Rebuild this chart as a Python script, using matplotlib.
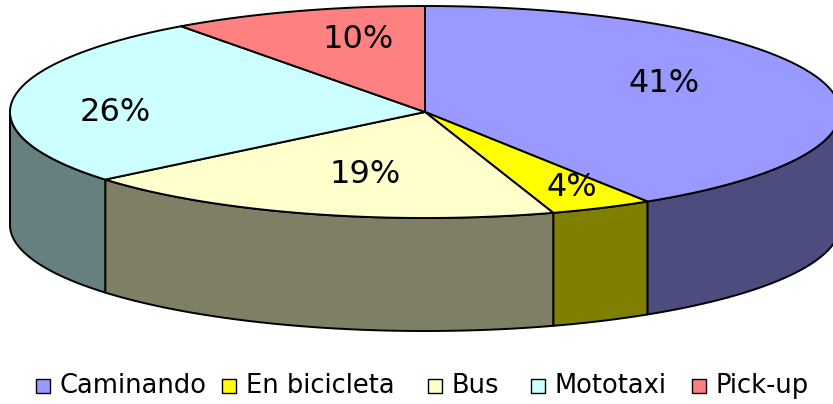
import numpy as np
import matplotlib.pyplot as plt
from matplotlib.patches import Polygon, Rectangle

# Data
labels = ['Caminando', 'En bicicleta', 'Bus', 'Mototaxi', 'Pick-up']
values = [41, 4, 19, 26, 10]
top_colors = ['#9999FF', '#FFFF00', '#FFFFCC', '#CCFFFF', '#FF8080']
side_colors = ['#4C4C7F', '#7F7F00', '#7F7F66', '#667F7F', '#7F4040']
# label placement: radial fraction and vertical nudge (px)
label_frac = [0.60, 0.83, 0.52, 0.753, 0.52]
label_dy = [-11, -4, 10, 11, -20]

# Geometry of the 3D pie (pixels)
cx, cy = 425, 112
a, b = 415, 106
depth = 113

fig = plt.figure(figsize=(8.33, 4.04), dpi=100)
ax = fig.add_axes([0, 0, 1, 1])
ax.set_xlim(0, 833)
ax.set_ylim(404, 0)
ax.axis('off')


def ell(t, dy=0):
    return np.column_stack([cx + a * np.cos(t), cy - b * np.sin(t) + dy])


fracs = np.array(values) / sum(values)
starts = np.pi / 2 - 2 * np.pi * np.concatenate([[0], np.cumsum(fracs)[:-1]])
ends = starts - 2 * np.pi * fracs

# side walls (front half only: angle in [-pi, 0] mod 2pi)
for s, e, sc in zip(starts, ends, side_colors):
    for k in (-1, 0, 1):
        lo = max(e + 2 * np.pi * k, -np.pi)
        hi = min(s + 2 * np.pi * k, 0)
        if hi > lo:
            t = np.linspace(lo, hi, 200)
            pts = np.vstack([ell(t), ell(t[::-1], depth)])
            ax.add_patch(Polygon(pts, closed=True, facecolor=sc,
                                 edgecolor='black', lw=1.4, joinstyle='round'))

# top faces
for s, e, tc in zip(starts, ends, top_colors):
    t = np.linspace(s, e, 300)
    pts = np.vstack([[cx, cy], ell(t)])
    ax.add_patch(Polygon(pts, closed=True, facecolor=tc,
                         edgecolor='black', lw=1.4, joinstyle='round'))

# percentage labels
for s, e, v, f, dy in zip(starts, ends, values, label_frac, label_dy):
    m = (s + e) / 2
    x = cx + a * f * np.cos(m)
    y = cy - b * f * np.sin(m) + dy
    ax.text(x, y, f'{v}%', ha='center', va='center', fontsize=23,
            family='DejaVu Sans', color='black')

# legend
leg_x = [36, 222, 428, 531, 692]
for lx, lab, tc in zip(leg_x, labels, top_colors):
    ax.add_patch(Rectangle((lx, 379), 14, 14, facecolor=tc,
                           edgecolor='black', lw=1))
    ax.text(lx + 24, 386, lab, ha='left', va='center', fontsize=18.5,
            family='DejaVu Sans', color='black')

fig.savefig('out.png', dpi=100)
